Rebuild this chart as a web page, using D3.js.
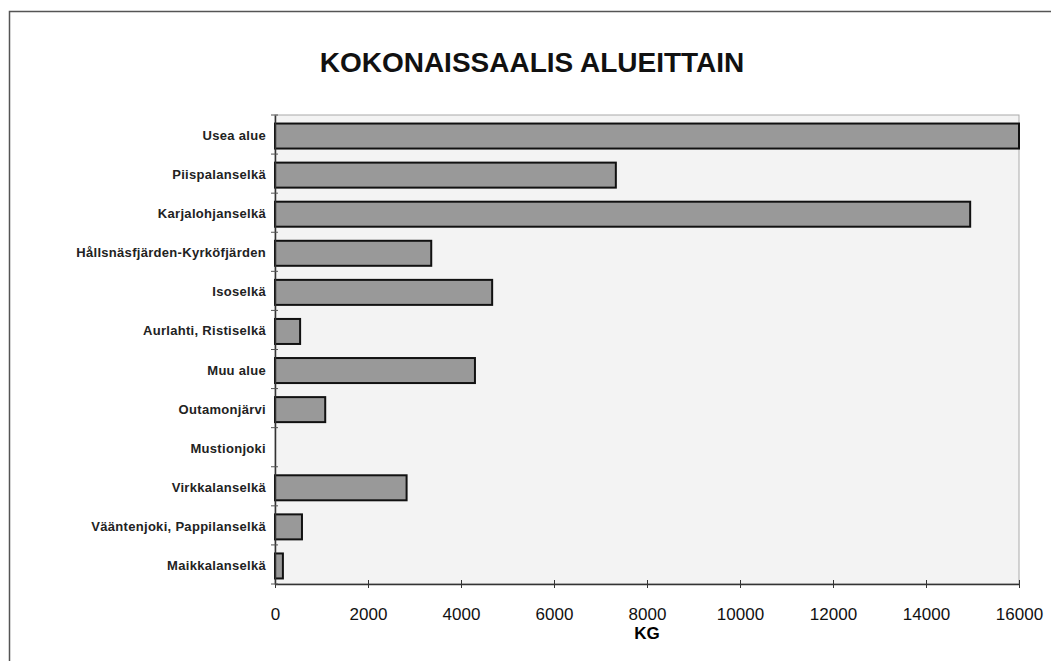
<!DOCTYPE html>
<meta charset="utf-8" />
<script src="https://d3js.org/d3.v7.min.js"></script>
<body style="margin:0;background:#fff">
  <div id="chart"></div>
  <script>
    // categories, top to bottom
    const areas = [
      "Usea alue",
      "Piispalanselkä",
      "Karjalohjanselkä",
      "Hållsnäsfjärden-Kyrköfjärden",
      "Isoselkä",
      "Aurlahti, Ristiselkä",
      "Muu alue",
      "Outamonjärvi",
      "Mustionjoki",
      "Virkkalanselkä",
      "Vääntenjoki, Pappilanselkä",
      "Maikkalanselkä"
    ];
    // total catch, kg
    const catchKg = [16000, 7330, 14950, 3360, 4670, 540, 4300, 1080, 0, 2830, 580, 170];
    const xTicks = [0, 2000, 4000, 6000, 8000, 10000, 12000, 14000, 16000];

    const W = 1051, H = 661;
    const margin = { top: 115, right: 32, bottom: 77, left: 275 };
    const width = W - margin.left - margin.right;
    const height = H - margin.top - margin.bottom;

    const svg = d3.select("#chart").append("svg")
      .attr("width", W).attr("height", H)
      .style("font-family", "'Liberation Sans', Arial, sans-serif");

    // outer frame (runs off the page on the right and bottom)
    svg.append("path")
      .attr("d", "M9.5," + (H + 2) + "V11.5H" + (W + 2))
      .attr("fill", "none").attr("stroke", "#555").attr("stroke-width", 1.5);

    svg.append("text")
      .attr("x", 532).attr("y", 72)
      .attr("text-anchor", "middle")
      .style("font-size", "28px").style("font-weight", "bold")
      .attr("fill", "#111")
      .text("KOKONAISSAALIS ALUEITTAIN");

    const g = svg.append("g")
      .attr("transform", "translate(" + margin.left + "," + margin.top + ")");

    const x = d3.scaleLinear().domain([0, 16000]).range([0, width]);
    const y = d3.scaleBand().domain(areas).range([0, height]).paddingInner(0.36).paddingOuter(0.18);

    // plot background
    g.append("rect").attr("width", width).attr("height", height)
      .attr("fill", "#f3f3f3").attr("stroke", "#aaa").attr("stroke-width", 1);

    g.selectAll(".bar").data(areas).join("rect")
      .attr("class", "bar")
      .attr("x", 0)
      .attr("y", d => y(d) + 1.5)
      .attr("width", (d, i) => x(catchKg[i]))
      .attr("height", y.bandwidth())
      .attr("fill", "#999")
      .attr("stroke", (d, i) => catchKg[i] > 0 ? "#111" : "none")
      .attr("stroke-width", 2);

    // x axis
    const xAxis = g.append("g")
      .attr("transform", "translate(0," + height + ")")
      .call(d3.axisBottom(x).tickValues(xTicks).tickFormat(d3.format("d")).tickSize(5).tickSizeOuter(0));
    xAxis.select(".domain").attr("stroke", "#333").attr("stroke-width", 1.5);
    xAxis.selectAll(".tick line").attr("stroke", "#333").attr("y1", -4).attr("y2", 4);
    xAxis.selectAll("text").attr("y", 24).style("font-size", "17px").attr("fill", "#111");

    // y axis with ticks between categories
    const yAxis = g.append("g")
      .call(d3.axisLeft(y).tickSize(0).tickPadding(9));
    yAxis.select(".domain").attr("stroke", "#333").attr("stroke-width", 1.5);
    yAxis.selectAll("text")
      .attr("dy", "0.42em")
      .style("font-size", "13px").style("font-weight", "bold")
      .style("letter-spacing", "0.3px").attr("fill", "#222");
    g.selectAll(".ytick").data(d3.range(areas.length + 1)).join("line")
      .attr("x1", -4).attr("x2", 3)
      .attr("y1", i => i * height / areas.length)
      .attr("y2", i => i * height / areas.length)
      .attr("stroke", "#555");

    g.append("text")
      .attr("x", x(8000)).attr("y", height + 55)
      .attr("text-anchor", "middle")
      .style("font-size", "17px").style("font-weight", "bold")
      .text("KG");
  </script>
</body>
